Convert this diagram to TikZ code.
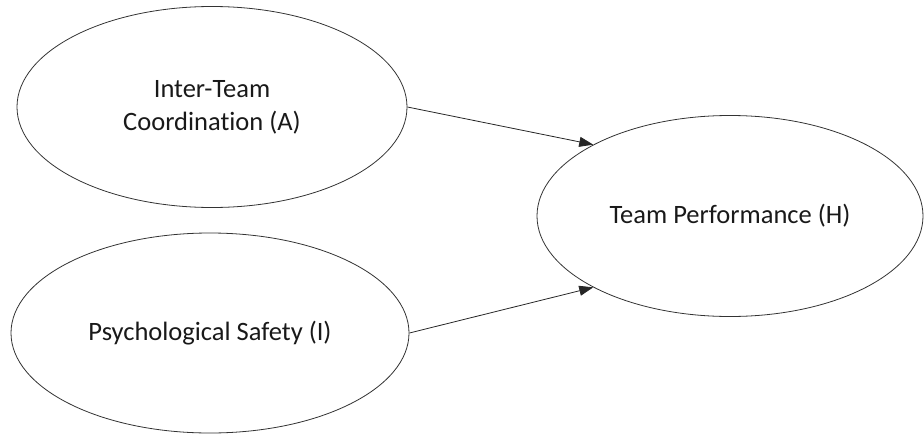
\documentclass[tikz,border=0pt]{standalone}
\usepackage{fontspec}
\setmainfont{Carlito}[Ligatures=NoCommon]
\usetikzlibrary{shapes.geometric,arrows.meta}
\tikzset{
  construct/.style={ellipse, draw=black!80, line width=0.8pt, inner sep=0pt, align=center,
    font=\fontsize{26.5}{33}\selectfont, text=black!90},
  link/.style={draw=black!85, line width=0.8pt, -{Triangle[length=14pt,width=10pt]}}
}
\begin{document}
\begin{tikzpicture}[x=1pt,y=-1pt]
\useasboundingbox (0,0) rectangle (924,434);
\node[construct, minimum width=390pt, minimum height=201pt] (A) at (212,107) {Inter-Team\\Coordination (A)};
\node[construct, minimum width=398pt, minimum height=200pt] (I) at (210,333) {Psychological Safety (I)};
\node[construct, minimum width=386pt, minimum height=201pt] (H) at (730,216) {Team Performance (H)};
\draw[link] (A.east) -- (H.north west);
\draw[link] (I.east) -- (H.south west);
\end{tikzpicture}
\end{document}
